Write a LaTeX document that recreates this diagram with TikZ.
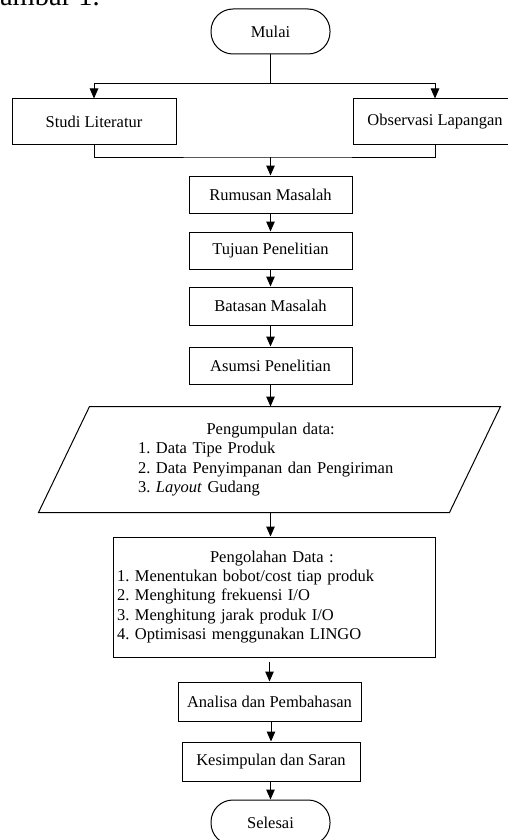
\documentclass[tikz,border=0pt]{standalone}
\usepackage{fontspec}
\setmainfont{Liberation Serif}
\usetikzlibrary{arrows.meta}
\frenchspacing

\begin{document}
\begin{tikzpicture}[x=1pt,y=-1pt,
    font=\fontsize{16.5}{19.3}\selectfont,
    every path/.style={line width=1pt},
    proses/.style={draw,minimum width=#1,minimum height=38pt,inner sep=0pt},
    terminal/.style={draw,rounded corners=22pt,minimum width=119pt,minimum height=45pt},
    panah/.style={-{Triangle[length=10pt,width=8.5pt]}}]
    \useasboundingbox (0,0) rectangle (508,840);
    % caption cut by the page
    \node[anchor=base west,inner sep=0pt,font=\fontsize{28.5}{30}\selectfont] (gambar) at (-21,6) {Gambar 1.};
    % start and the two sources
    \node[terminal] (mulai) at (270.5,31.5) {Mulai};
    \node[proses=164pt,minimum height=45pt] (studi) at (94,121.5) {Studi Literatur};
    \node[proses=164pt,minimum height=45pt] (obs) at (435,121.5) {Observasi Lapangan};
    \coordinate (bagi) at (270.5,84);
    \coordinate (gabung) at (270.5,157);
    % main chain
    \node[proses=163pt,minimum height=37pt] (rumusan) at (270.5,194.5) {Rumusan Masalah};
    \node[proses=163pt,minimum height=37pt] (tujuan) at (270.5,250.5) {Tujuan Penelitian};
    \node[proses=163pt] (batasan) at (270.5,306) {Batasan Masalah};
    \node[proses=163pt,minimum height=37pt] (asumsi) at (270.5,365.5) {Asumsi Penelitian};
    \node[minimum width=410pt,minimum height=105pt,text width=263pt,align=left,inner sep=0pt] (data) at (269.5,459.5)
        {\hspace*{68.5pt}Pengumpulan data:\\1. Data Tipe Produk\\2. Data Penyimpanan dan Pengiriman\\3. \textit{Layout} Gudang};
    \draw ([xshift=25.5pt]data.north west) -- ([xshift=25.5pt]data.north east)
        -- ([xshift=-25.5pt]data.south east) -- ([xshift=-25.5pt]data.south west) -- cycle;
    \node[draw,minimum width=322pt,minimum height=120pt,text width=314pt,align=left,inner sep=0pt] (olah) at (274,597)
        {\hspace*{93pt}Pengolahan Data :\\1. Menentukan bobot/cost tiap produk\\2. Menghitung frekuensi I/O\\3. Menghitung jarak produk I/O\\4. Optimisasi menggunakan LINGO};
    \node[proses=183pt,minimum height=39pt] (analisa) at (269.5,701.5) {Analisa dan Pembahasan};
    \node[proses=178pt,minimum height=39pt] (kesimpulan) at (271,761.5) {Kesimpulan dan Saran};
    \node[terminal] (selesai) at (270.5,822.5) {Selesai};
    % connectors
    \draw (mulai) -- (bagi);
    \draw[panah] (bagi) -| (studi.north);
    \draw[panah] (bagi) -| (obs.north);
    \draw (studi.south) |- (gabung) -| (obs.south);
    \draw[panah] (gabung) -- (rumusan);
    \draw[panah] (rumusan) -- (tujuan);
    \draw[panah] (tujuan) -- (batasan);
    \draw[panah] (batasan) -- (asumsi);
    \draw[panah] (asumsi.south) -- (asumsi.south |- data.north);
    \draw[panah] (asumsi.south |- data.south) -- (asumsi.south |- olah.north);
    \draw[panah,shorten <=4pt] (olah.south -| analisa) -- (analisa);
    \draw[panah] (analisa.south -| kesimpulan) -- (kesimpulan);
    \draw[panah] (kesimpulan.south -| selesai) -- (selesai);
\end{tikzpicture}
\end{document}
